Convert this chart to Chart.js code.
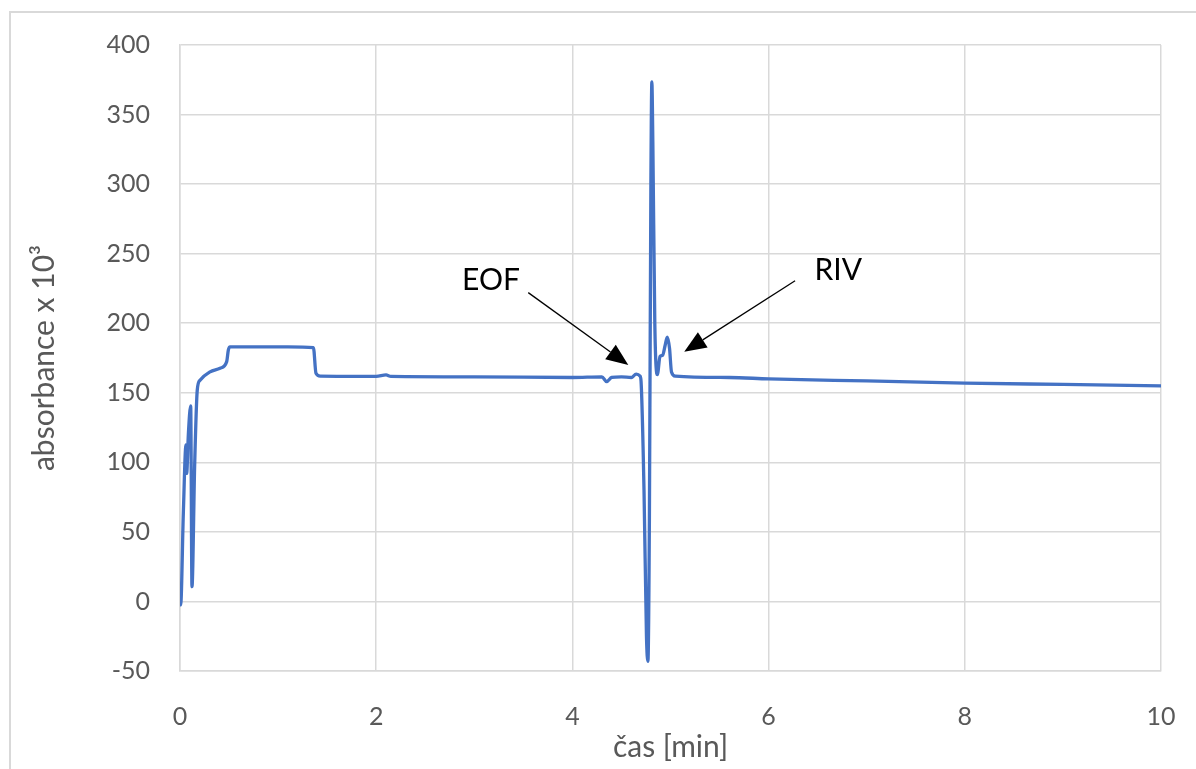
<!DOCTYPE html>
<html>
<head>
<meta charset="utf-8">
<script src="https://cdn.jsdelivr.net/npm/chart.js@4.4.1/dist/chart.umd.min.js"></script>
<style>
  html, body { margin: 0; padding: 0; background: #fff; overflow: hidden; }
  #wrap { position: relative; width: 1196px; height: 769px; }
  #frame { position: absolute; left: 9px; top: 11px; width: 1400px; height: 900px; border: 2px solid #d9d9d9; }
  canvas { position: absolute; left: 0; top: 0; }
</style>
</head>
<body>
<div id="wrap">
  <div id="frame"></div>
  <canvas id="chart" width="1196" height="769"></canvas>
</div>
<script>
// time [min]
const times = [
  0, 0.007, 0.034, 0.061, 0.068, 0.085, 0.109, 0.122, 0.15, 0.176, 0.204,
  0.306, 0.408, 0.476, 0.493, 0.51, 0.8, 1.1, 1.36, 1.386, 1.43,
  2.0, 2.1, 2.15, 3.0, 4.0, 4.3, 4.35, 4.4, 4.5, 4.6, 4.65, 4.69,
  4.70, 4.73, 4.755, 4.77, 4.785, 4.80, 4.81, 4.82, 4.84, 4.866, 4.893, 4.92,
  4.945, 4.967, 4.99, 5.01, 5.05,
  5.6, 6.0, 7.0, 8.0, 9.0, 10.0
];
// absorbance x 10^3
const absorbance = [
  -2, -2.5, 63.6, 112.5, 92, 120, 140.5, 10.6, 99.5, 152, 159,
  165, 167.6, 172.4, 180.8, 183, 183, 183, 182.5, 164, 162,
  161.8, 162.8, 161.8, 161.5, 161, 161.5, 158, 161, 161.5, 161, 163.4, 162,
  158, 80, -25, -43, 60, 300, 373.5, 330, 200, 163, 176, 177,
  184, 190, 182, 165, 162,
  161, 160, 158.5, 157, 156, 155
];
const xTicks = [0, 2, 4, 6, 8, 10];
const yTicks = [-50, 0, 50, 100, 150, 200, 250, 300, 350, 400];

// annotations in data units: label, text position, arrow start, arrow tip
const notes = [
  { text: 'EOF', at: [3.17, 231], from: [3.55, 222], to: [4.57, 170] },
  { text: 'RIV', at: [6.71, 238], from: [6.27, 230.5], to: [5.14, 179.5] }
];

const grey = '#595959';
const font = 'Lato, "Open Sans", sans-serif';

const arrows = {
  id: 'arrows',
  afterDatasetsDraw(chart) {
    const { ctx, scales: { x, y } } = chart;
    ctx.save();
    notes.forEach(n => {
      const x0 = x.getPixelForValue(n.from[0]), y0 = y.getPixelForValue(n.from[1]);
      const x1 = x.getPixelForValue(n.to[0]), y1 = y.getPixelForValue(n.to[1]);
      const ang = Math.atan2(y1 - y0, x1 - x0);
      const len = 22, half = 9;
      const bx = x1 - len * Math.cos(ang), by = y1 - len * Math.sin(ang);
      ctx.strokeStyle = '#000';
      ctx.lineWidth = 1.3;
      ctx.beginPath();
      ctx.moveTo(x0, y0);
      ctx.lineTo(bx, by);
      ctx.stroke();
      ctx.fillStyle = '#000';
      ctx.beginPath();
      ctx.moveTo(x1, y1);
      ctx.lineTo(bx + half * Math.sin(ang), by - half * Math.cos(ang));
      ctx.lineTo(bx - half * Math.sin(ang), by + half * Math.cos(ang));
      ctx.closePath();
      ctx.fill();
      ctx.font = '30px ' + font;
      ctx.textAlign = 'center';
      ctx.textBaseline = 'middle';
      ctx.fillText(n.text, x.getPixelForValue(n.at[0]), y.getPixelForValue(n.at[1]));
    });
    ctx.restore();
  }
};

new Chart(document.getElementById('chart'), {
  type: 'line',
  data: {
    datasets: [{
      data: times.map((t, i) => ({ x: t, y: absorbance[i] })),
      borderColor: '#4472C4',
      borderWidth: 3.3,
      borderJoinStyle: 'round',
      borderCapStyle: 'round',
      pointRadius: 0,
      cubicInterpolationMode: 'monotone',
      fill: false
    }]
  },
  options: {
    responsive: false,
    animation: false,
    layout: { padding: { left: 0, right: 35, top: 45, bottom: 0 } },
    plugins: { legend: { display: false }, tooltip: { enabled: false } },
    scales: {
      x: {
        type: 'linear',
        min: 0, max: 10,
        afterBuildTicks: s => { s.ticks = xTicks.map(v => ({ value: v })); },
        afterFit: s => { s.height = 98; s.paddingLeft = 0; s.paddingRight = 0; },
        grid: { color: '#d9d9d9', lineWidth: 1.5, drawTicks: false },
        border: { color: '#d9d9d9', width: 1.5 },
        ticks: { color: grey, font: { family: font, size: 25 }, padding: 31, maxRotation: 0 },
        title: { display: true, text: 'čas [min]', color: grey, font: { family: font, size: 30 }, padding: { top: -2 } }
      },
      y: {
        min: -50, max: 400,
        afterBuildTicks: s => { s.ticks = yTicks.map(v => ({ value: v })); },
        afterFit: s => { s.width = 180; s.paddingTop = 0; s.paddingBottom = 0; },
        grid: { color: '#d9d9d9', lineWidth: 1.5, drawTicks: false },
        border: { color: '#d9d9d9', width: 1.5 },
        ticks: { color: grey, font: { family: font, size: 25 }, padding: 30 },
        title: { display: true, text: 'absorbance x 10³', color: grey, font: { family: font, size: 30 }, padding: { top: 26 } }
      }
    }
  },
  plugins: [arrows]
});
</script>
</body>
</html>
